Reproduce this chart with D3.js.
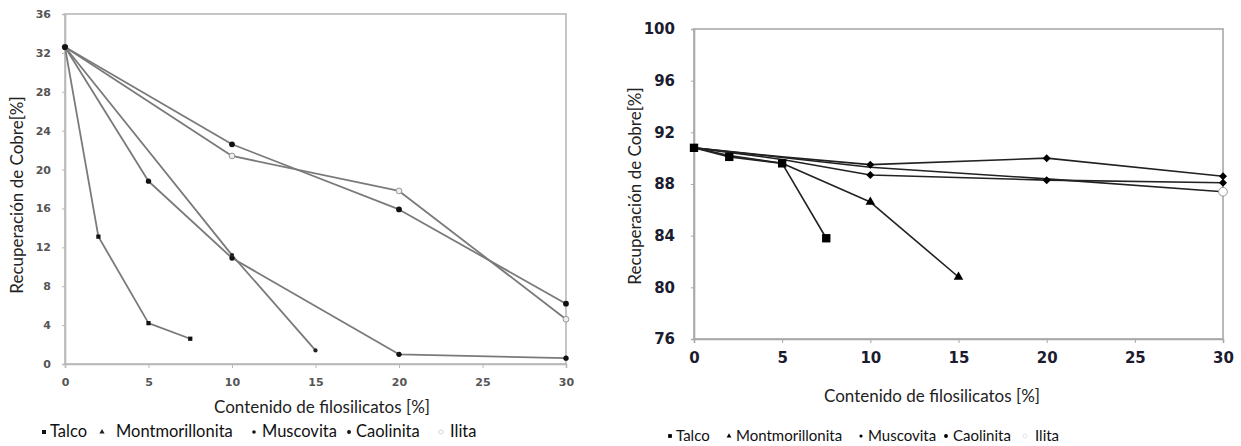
<!DOCTYPE html>
<html>
<head>
<meta charset="utf-8">
<script src="https://cdn.jsdelivr.net/npm/d3@7/dist/d3.min.js"></script>
<style>
  html, body { margin: 0; padding: 0; background: #fff; }
  svg { display: block; }
</style>
</head>
<body>
<svg id="chart" width="1241" height="446"></svg>
<script>
// Categories and labels
const seriesNames = ["Talco", "Montmorillonita", "Muscovita", "Caolinita", "Ilita"];
const xTicks = [0, 5, 10, 15, 20, 25, 30];
const yTicksLeft = [0, 4, 8, 12, 16, 20, 24, 28, 32, 36];
const yTicksRight = [76, 80, 84, 88, 92, 96, 100];
const xTitle = "Contenido de filosilicatos [%]";
const yTitle = "Recuperación de Cobre[%]";

// Left panel: [filosilicate %, copper recovery %]
const leftTalco = [[0, 32.6], [2, 13.1], [5, 4.2], [7.5, 2.6]];
const leftMontmorillonita = [[0, 32.6], [10, 11.2], [15, 1.4]];
const leftMuscovita = [[0, 32.6], [5, 18.8], [10, 10.9], [20, 1.0], [30, 0.6]];
const leftCaolinita = [[0, 32.6], [10, 22.6], [20, 15.9], [30, 6.2]];
const leftIlita = [[0, 32.6], [10, 21.4], [20, 17.8], [30, 4.6]];

// Right panel
const rightTalco = [[0, 90.8], [2, 90.1], [5, 89.6], [7.5, 83.8]];
const rightMontmorillonita = [[0, 90.8], [2, 90.2], [5, 89.6], [10, 86.6], [15, 80.8]];
const rightMuscovita = [[0, 90.8], [5, 89.9], [10, 88.7], [20, 88.3], [30, 88.1]];
const rightCaolinita = [[0, 90.8], [5, 90.1], [10, 89.5], [20, 90.0], [30, 88.6]];
const rightIlita = [[0, 90.8], [10, 89.3], [20, 88.4], [30, 87.4]];

const svg = d3.select("#chart");

function markerPath(type, size) {
  const sym = { square: d3.symbolSquare, triangle: d3.symbolTriangle,
                circle: d3.symbolCircle, diamond: d3.symbolSquare }[type];
  return d3.symbol().type(sym).size(size)();
}

function drawPanel(cfg) {
  const x = d3.scaleLinear().domain([0, 30]).range([cfg.left, cfg.right]);
  const y = d3.scaleLinear().domain(cfg.yDomain).range([cfg.bottom, cfg.top]);
  const g = svg.append("g");

  // plot frame
  g.append("rect")
    .attr("x", cfg.left).attr("y", cfg.top)
    .attr("width", cfg.right - cfg.left).attr("height", cfg.bottom - cfg.top)
    .attr("fill", "none").attr("stroke", cfg.frameColor).attr("stroke-width", 1.6);

  // axes
  const xAxis = g.append("g").attr("transform", `translate(0,${cfg.bottom})`)
    .call(d3.axisBottom(x).tickValues(xTicks).tickSize(4).tickPadding(cfg.xPad).tickFormat(d3.format("d")));
  const yAxis = g.append("g").attr("transform", `translate(${cfg.left},0)`)
    .call(d3.axisLeft(y).tickValues(cfg.yTicks).tickSize(3).tickPadding(cfg.yPad).tickFormat(d3.format("d")));
  [xAxis, yAxis].forEach(a => {
    a.select(".domain").attr("stroke", cfg.frameColor).attr("stroke-width", 1.6);
    a.selectAll(".tick line").attr("stroke", cfg.frameColor);
    a.selectAll(".tick text")
      .attr("font-family", "DejaVu Sans, sans-serif")
      .attr("font-weight", "bold")
      .attr("font-size", cfg.tickFont)
      .attr("fill", cfg.tickColor);
  });

  // lines and markers
  const line = d3.line().x(d => x(d[0])).y(d => y(d[1]));
  cfg.series.forEach(s => {
    g.append("path").datum(s.data)
      .attr("d", line).attr("fill", "none")
      .attr("stroke", cfg.lineColor).attr("stroke-width", cfg.lineWidth)
      .attr("stroke-linejoin", "round");
  });
  cfg.series.slice().reverse().forEach(s => {
    const from = s.markFrom || 0;
    const rot = s.shape === "diamond" ? " rotate(45)" : "";
    g.selectAll(null).data(s.data.filter(d => d[0] >= from)).enter().append("path")
      .attr("transform", d => `translate(${x(d[0])},${y(d[1])})${rot}`)
      .attr("d", markerPath(s.shape, s.size))
      .attr("fill", s.fill).attr("stroke", s.stroke).attr("stroke-width", 1);
  });

  // titles
  g.append("text")
    .attr("x", cfg.xTitleX).attr("y", cfg.xTitleY)
    .attr("text-anchor", "middle")
    .attr("font-family", "Lato, sans-serif").attr("font-size", cfg.titleFont)
    .attr("fill", "#222").text(xTitle);
  g.append("text")
    .attr("transform", `translate(${cfg.yTitleX},${cfg.yTitleY}) rotate(-90)`)
    .attr("text-anchor", "middle")
    .attr("font-family", "Lato, sans-serif").attr("font-size", cfg.titleFont)
    .attr("fill", "#222").text(yTitle);

  // legend
  const lg = g.append("g");
  cfg.series.forEach((s, i) => {
    const item = cfg.legend[i];
    lg.append("path")
      .attr("transform", `translate(${item[0]},${cfg.legendY - 5})`)
      .attr("d", markerPath(s.legendShape || s.shape, s.legendSize))
      .attr("fill", s.legendFill || s.fill).attr("stroke", s.legendStroke || s.stroke).attr("stroke-width", 0.8);
    lg.append("text")
      .attr("x", item[1]).attr("y", cfg.legendY)
      .attr("font-family", "Lato, sans-serif").attr("font-size", cfg.legendFont)
      .attr("fill", "#111").text(seriesNames[i]);
  });
}

drawPanel({
  left: 65, right: 566, top: 14, bottom: 364,
  yDomain: [0, 36], yTicks: yTicksLeft,
  frameColor: "#b8b8b8", tickColor: "#555", tickFont: 11, xPad: 10, yPad: 11,
  lineColor: "#7a7a7a", lineWidth: 1.8,
  titleFont: 17, xTitleX: 322, xTitleY: 413, yTitleX: 23, yTitleY: 195,
  legendY: 437, legendFont: 16.5,
  legend: [[44, 50], [102, 116], [254, 262], [349, 356], [441, 450]],
  series: [
    { data: leftTalco, shape: "square", size: 18, fill: "#111", stroke: "none", legendSize: 16 },
    { data: leftMontmorillonita, shape: "circle", size: 14, fill: "#222", stroke: "none", legendShape: "triangle", legendSize: 12 },
    { data: leftMuscovita, shape: "circle", size: 22, fill: "#111", stroke: "none", legendSize: 10 },
    { data: leftCaolinita, shape: "circle", size: 26, fill: "#111", stroke: "none", legendSize: 12 },
    { data: leftIlita, shape: "circle", size: 26, fill: "#eee", stroke: "#999", legendSize: 14, legendFill: "#fff", legendStroke: "#ccc" }
  ]
});

drawPanel({
  left: 694, right: 1223, top: 29, bottom: 339,
  yDomain: [76, 100], yTicks: yTicksRight,
  frameColor: "#a8a8a8", tickColor: "#1c1c30", tickFont: 15, xPad: 9, yPad: 16,
  lineColor: "#222", lineWidth: 1.6,
  titleFont: 17, xTitleX: 932, xTitleY: 402, yTitleX: 641, yTitleY: 186,
  legendY: 441, legendFont: 15,
  legend: [[670, 676], [729, 736], [861, 868], [946, 953], [1025, 1035]],
  series: [
    { data: rightTalco, shape: "square", size: 70, fill: "#000", stroke: "none", legendSize: 14 },
    { data: rightMontmorillonita, markFrom: 10, shape: "triangle", size: 40, fill: "#000", stroke: "none", legendSize: 10 },
    { data: rightMuscovita, markFrom: 10, shape: "diamond", size: 32, fill: "#000", stroke: "none", legendShape: "circle", legendSize: 8 },
    { data: rightCaolinita, markFrom: 10, shape: "diamond", size: 32, fill: "#000", stroke: "none", legendShape: "circle", legendSize: 12 },
    { data: rightIlita, markFrom: 30, shape: "circle", size: 60, fill: "#fff", stroke: "#999", legendSize: 12, legendStroke: "#ddd" }
  ]
});
</script>
</body>
</html>
